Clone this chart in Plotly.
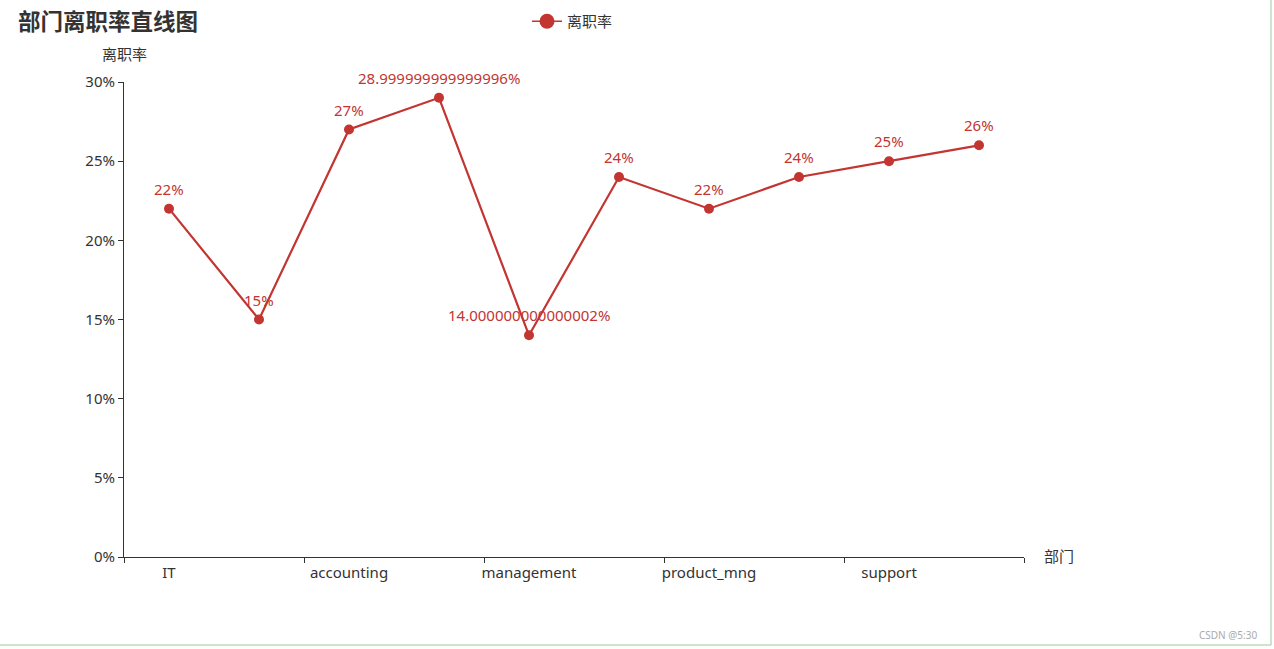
import plotly.graph_objects as go

departments = ["IT", "RandD", "accounting", "hr", "management",
               "marketing", "product_mng", "sales", "support", "technical"]
turnover_pct = [22, 15, 27, 29, 14, 24, 22, 24, 25, 26]
point_labels = ["22%", "15%", "27%", "28.999999999999996%", "14.000000000000002%",
                "24%", "22%", "24%", "25%", "26%"]
y_ticks = [0, 5, 10, 15, 20, 25, 30]
y_tick_labels = ["0%", "5%", "10%", "15%", "20%", "25%", "30%"]

RED = "#c23531"
FONT = "Noto Sans, Noto Sans CJK SC, sans-serif"
W, H = 1274, 649
ML, MR, MT, MB = 124, 250, 82, 92
PW, PH = W - ML - MR, H - MT - MB

def px_x(p):
    return (p - ML) / PW

def px_y(p):
    return (H - MB - p) / PH

fig = go.Figure()
fig.add_trace(go.Scatter(
    x=departments, y=turnover_pct, mode="lines+markers",
    name="离职率", showlegend=False,
    line=dict(color=RED, width=2.2),
    marker=dict(color=RED, size=10),
    cliponaxis=False,
))
# legend entry with larger symbol
fig.add_trace(go.Scatter(
    x=[None], y=[None], mode="lines+markers", name="离职率",
    line=dict(color=RED, width=1.5), marker=dict(color=RED, size=15),
    showlegend=True,
))

annotations = [
    dict(x=d, y=v, text=t, xref="x", yref="y", showarrow=False, yshift=20,
         font=dict(color=RED, size=15, family=FONT))
    for d, v, t in zip(departments, turnover_pct, point_labels)
]
annotations += [
    dict(text="离职率", xref="paper", yref="paper", x=0, y=px_y(54),
         xanchor="center", yanchor="middle", showarrow=False,
         font=dict(size=15, color="#333")),
    dict(text="部门", xref="paper", yref="paper", x=px_x(1042), y=px_y(556),
         xanchor="left", yanchor="middle", showarrow=False,
         font=dict(size=15, color="#333")),
    dict(text="CSDN @5:30", xref="paper", yref="paper", x=px_x(1259), y=px_y(635),
         xanchor="right", yanchor="middle", showarrow=False,
         font=dict(size=10, color="#aaa")),
]

fig.update_layout(
    width=W, height=H,
    margin=dict(l=ML, r=MR, t=MT, b=MB, autoexpand=False),
    plot_bgcolor="white", paper_bgcolor="white",
    font=dict(family=FONT, size=14, color="#333"),
    title=dict(text="<b>部门离职率直线图</b>", x=18 / W, xref="container", xanchor="left",
               y=1 - 22 / H, yref="container", yanchor="middle",
               font=dict(size=22.5, color="#333", family="Noto Sans CJK SC")),
    showlegend=True,
    legend=dict(orientation="h", xref="container", yref="container",
                x=527 / W, xanchor="left", y=1 - 5 / H, yanchor="top",
                font=dict(size=15, color="#333", family=FONT), bgcolor="rgba(0,0,0,0)",
                itemwidth=30),
    xaxis=dict(type="category", range=[-0.5, 9.5], tickson="boundaries", dtick=2,
               tickangle=0, automargin=False, ticklabelstandoff=2,
               ticks="outside", ticklen=5, tickcolor="#333", showline=True,
               linecolor="#333", linewidth=1, showgrid=False, zeroline=False,
               tickfont=dict(size=15, color="#333")),
    yaxis=dict(range=[0, 30], tickvals=y_ticks, ticktext=y_tick_labels, automargin=False,
               ticks="outside", ticklen=5, tickcolor="#333", showline=True,
               linecolor="#333", linewidth=1, showgrid=False, zeroline=False,
               tickfont=dict(size=15, color="#333")),
    annotations=annotations,
    shapes=[
        dict(type="line", xref="paper", yref="paper", x0=px_x(1271), x1=px_x(1271),
             y0=px_y(0), y1=px_y(645), line=dict(color="#9bc99b", width=1)),
        dict(type="line", xref="paper", yref="paper", x0=px_x(0), x1=px_x(1271),
             y0=px_y(645), y1=px_y(645), line=dict(color="#9bc99b", width=1)),
    ],
)

fig.write_html("out.html")
